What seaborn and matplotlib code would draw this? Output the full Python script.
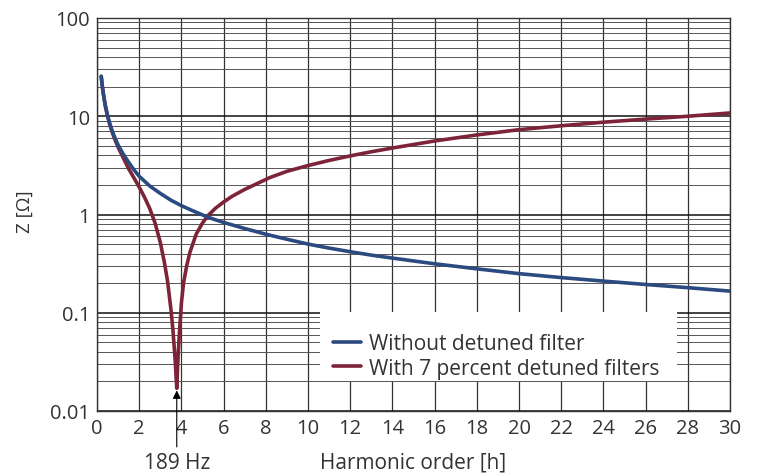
import numpy as np
import pandas as pd
import matplotlib
matplotlib.use("Agg")
import matplotlib.pyplot as plt
from matplotlib.ticker import FixedLocator, FixedFormatter, LogLocator, NullFormatter
import seaborn as sns

# ---- data ----
h_without = [0.2, 0.25, 0.3, 0.35, 0.4, 0.5, 0.6, 0.7, 0.8, 0.9, 1.0, 1.25, 1.5, 1.75,
             2.0, 2.5, 3.0, 3.5, 4.0, 4.5, 5.0, 5.5, 6.0, 7.0, 8.0, 9.0, 10, 11, 12,
             13, 14, 16, 18, 20, 22, 24, 26, 28, 30]
z_without = [25.5, 20.4, 17.0, 14.6, 12.7, 10.2, 8.5, 7.3, 6.4, 5.7, 5.1, 4.1, 3.4, 2.85,
             2.45, 1.95, 1.64, 1.4, 1.23, 1.1, 0.99, 0.9, 0.83, 0.72, 0.63, 0.56, 0.5,
             0.455, 0.418, 0.386, 0.36, 0.315, 0.28, 0.25, 0.228, 0.21, 0.194, 0.18,
             0.166]

h_with = [0.2, 0.25, 0.3, 0.35, 0.4, 0.5, 0.6, 0.7, 0.8, 0.9, 1.0, 1.25, 1.5, 1.75,
          2.0, 2.25, 2.5, 2.75, 3.0, 3.2, 3.35, 3.5, 3.6, 3.7, 3.78, 3.82, 3.86, 3.9,
          4.0, 4.1, 4.25, 4.4, 4.7, 5.0, 5.25, 5.6, 6.0, 6.4, 7.0, 7.6, 8.2, 9.0, 10,
          11, 12, 13, 14, 16, 18, 20, 22, 24, 26, 28, 30]
z_with = [25.5, 20.3, 16.9, 14.5, 12.6, 10.0, 8.3, 7.1, 6.15, 5.45, 4.85, 3.75, 2.92,
          2.36, 1.9, 1.5, 1.15, 0.82, 0.52, 0.32, 0.205, 0.11, 0.066, 0.034, 0.017,
          0.028, 0.042, 0.06, 0.125, 0.2, 0.3, 0.41, 0.63, 0.82, 0.97, 1.15, 1.34,
          1.53, 1.8, 2.07, 2.38, 2.75, 3.15, 3.55, 3.95, 4.35, 4.75, 5.6, 6.45, 7.3,
          8.0, 8.7, 9.35, 10.0, 10.8]

series_names = ["Without detuned filter", "With 7 percent detuned filters"]
x_ticks = list(range(0, 31, 2))
y_ticks = [0.01, 0.1, 1, 10, 100]
y_tick_labels = ["0.01", "0.1", "1", "10", "100"]
resonance_h = 3.78
resonance_label = "189 Hz"

df = pd.concat([
    pd.DataFrame({"h": h_without, "Z": z_without, "series": series_names[0]}),
    pd.DataFrame({"h": h_with, "Z": z_with, "series": series_names[1]}),
])

sns.set_theme(style="white")
plt.rcParams["font.family"] = ["Open Sans", "DejaVu Sans"]

fig = plt.figure(figsize=(7.57, 4.77), dpi=100)
ax = fig.add_axes([97 / 757, 1 - 412 / 477, 633 / 757, 393 / 477])

colors = {series_names[0]: "#2b4a80", series_names[1]: "#7d2438"}

# draw red first, blue on top
for name in [series_names[1], series_names[0]]:
    sub = df[df["series"] == name]
    sns.lineplot(data=sub, x="h", y="Z", ax=ax, color=colors[name], lw=2.6,
                 sort=False, label=name, zorder=3, legend=False)

ax.set_yscale("log")
ax.set_xlim(0, 30)
ax.set_ylim(0.01, 100)

ax.xaxis.set_major_locator(FixedLocator(x_ticks))
ax.yaxis.set_major_locator(FixedLocator(y_ticks))
ax.yaxis.set_major_formatter(FixedFormatter(y_tick_labels))
ax.yaxis.set_minor_locator(LogLocator(base=10, subs=np.arange(2, 10)))
ax.yaxis.set_minor_formatter(NullFormatter())

ax.grid(True, which="major", axis="x", color="#333333", lw=0.9)
ax.grid(True, which="major", axis="y", color="#111111", lw=1.1)
ax.grid(True, which="minor", axis="y", color="#555555", lw=0.7)
ax.set_axisbelow(True)

for s in ax.spines.values():
    s.set_color("#333333")
    s.set_linewidth(1.0)

ax.tick_params(axis="both", which="both", length=0, labelsize=14.5, colors="#333333")
ax.tick_params(axis="x", pad=5)
ax.tick_params(axis="y", pad=5)

ax.set_xlabel("Harmonic order [h]", fontsize=15, color="#333333")
ax.set_ylabel("Z [Ω]", fontsize=13.5, color="#333333")
ax.xaxis.set_label_coords(0.50, -0.102)
ax.yaxis.set_label_coords(-0.100, 0.51)

# legend background covering grid
bg = plt.Rectangle((0.352, 0.076), 0.564, 0.176, transform=ax.transAxes,
                   facecolor="white", edgecolor="none", zorder=2)
ax.add_patch(bg)
handles, labels = ax.get_legend_handles_labels()
order = [labels.index(series_names[0]), labels.index(series_names[1])]
leg = ax.legend([handles[i] for i in order], [labels[i] for i in order],
                loc="upper left", bbox_to_anchor=(0.350, 0.236), frameon=False,
                fontsize=15, handlelength=1.35, handletextpad=0.35,
                labelspacing=0.18, borderpad=0.2, labelcolor="#333333")
leg.set_zorder(4)

ax.annotate(resonance_label, xy=(resonance_h, 0.0162),
            xytext=(resonance_h, -0.13), textcoords=ax.get_xaxis_transform(),
            ha="center", va="center", fontsize=15, color="#333333",
            annotation_clip=False,
            arrowprops=dict(arrowstyle="-|>", color="black", lw=0.8,
                            shrinkA=1, shrinkB=0, mutation_scale=12))

fig.savefig("out.png", dpi=100)
